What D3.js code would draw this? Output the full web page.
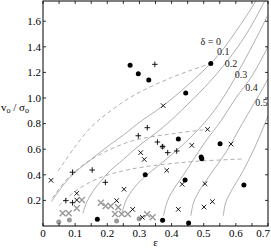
<!DOCTYPE html>
<html><head><meta charset="utf-8">
<script src="https://cdn.jsdelivr.net/npm/d3@7"></script>
<style>body{margin:0;background:#fff}svg{display:block}text{font-family:"Liberation Serif","DejaVu Serif",serif}</style>
</head><body>
<script>
// ---- data (ε, v_o/σ_o) ----
const xTicks = [0,0.05,0.1,0.15,0.2,0.25,0.3,0.35,0.4,0.45,0.5,0.55,0.6,0.65,0.7];
const xTickLabels = [0,0.1,0.2,0.3,0.4,0.5,0.6,0.7];
const yTickLabels = [0.2,0.4,0.6,0.8,1.0,1.2,1.4,1.6];

const deltaNames = ["δ = 0","0.1","0.2","0.3","0.4","0.5"];
const deltaLabelPos = [[0.522,1.432],[0.561,1.357],[0.585,1.258],[0.616,1.172],[0.649,1.076],[0.680,0.956]];
const delta0  = [[0.026,0.19],[0.06,0.31],[0.1,0.42],[0.15,0.52],[0.2,0.62],[0.25,0.71],[0.3,0.81],[0.374,0.94],[0.45,1.1],[0.522,1.27],[0.55,1.35],[0.575,1.43],[0.6,1.52],[0.63,1.63],[0.662,1.758]];
const delta01 = [[0.124,0.10],[0.135,0.18],[0.155,0.27],[0.18,0.35],[0.208,0.43],[0.25,0.52],[0.3,0.63],[0.373,0.77],[0.45,0.95],[0.52,1.13],[0.594,1.357],[0.64,1.53],[0.69,1.758]];
const delta02 = [[0.245,0.09],[0.255,0.18],[0.275,0.27],[0.31,0.37],[0.373,0.50],[0.45,0.67],[0.52,0.86],[0.57,1.04],[0.619,1.258],[0.66,1.45],[0.7,1.65]];
const delta03 = [[0.375,0.08],[0.385,0.18],[0.40,0.26],[0.437,0.40],[0.5,0.64],[0.556,0.83],[0.6,1.0],[0.65,1.172],[0.7,1.40]];
const delta04 = [[0.46,0.08],[0.468,0.18],[0.485,0.27],[0.52,0.40],[0.57,0.58],[0.62,0.80],[0.684,1.076],[0.7,1.15]];
const delta05 = [[0.561,0.08],[0.568,0.18],[0.585,0.27],[0.62,0.42],[0.66,0.62],[0.7,0.86]];

const dashed1 = [[0.047,0.43],[0.1,0.62],[0.147,0.766],[0.2,0.88],[0.282,1.02],[0.4,1.16],[0.522,1.27]];
const dashed2 = [[0.03,0.22],[0.08,0.38],[0.15,0.52],[0.271,0.66],[0.4,0.72],[0.512,0.755]];
const dashed3 = [[0.05,0.16],[0.1,0.27],[0.17,0.37],[0.271,0.443],[0.45,0.50],[0.618,0.523]];

const blackDots = [[0.271,1.255],[0.2965,1.19],[0.329,1.14],[0.444,1.04],[0.522,1.27],[0.421,0.68],[0.551,0.643],[0.492,0.54],[0.494,0.526],[0.318,0.40],[0.442,0.36],[0.625,0.32],[0.372,0.045],[0.453,0.023],[0.169,0.052]];
const grayDots = [[0.049,0.031],[0.082,0.047],[0.229,0.039],[0.299,0.057],[0.372,0.62]];
const blackX = [[0.374,0.94],[0.512,0.755],[0.463,0.63],[0.585,0.64],[0.304,0.573],[0.315,0.52],[0.385,0.435],[0.433,0.326],[0.504,0.33],[0.527,0.19],[0.501,0.148],[0.421,0.13],[0.279,0.13],[0.309,0.068],[0.025,0.357],[0.252,0.287],[0.105,0.255],[0.105,0.203],[0.229,0.198]];
const grayX = [[0.121,0.203],[0.105,0.138],[0.061,0.10],[0.08,0.10],[0.18,0.182],[0.195,0.156],[0.211,0.156],[0.234,0.146],[0.224,0.094],[0.245,0.094],[0.264,0.094],[0.324,0.091],[0.341,0.068]];
const plusPts = [[0.3245,0.768],[0.2965,0.705],[0.356,0.656],[0.372,0.62],[0.388,0.573],[0.416,0.586],[0.348,1.263],[0.092,0.42],[0.153,0.4375],[0.194,0.341],[0.071,0.198],[0.092,0.182]];

// ---- drawing ----
const W=271,H=249, L=43, R=268, T=1, B=226;
const FF='"Liberation Serif","DejaVu Serif",serif';
const svg=d3.select("body").append("svg").attr("width",W).attr("height",H);
const x=d3.scaleLinear().domain([0,0.7]).range([L,R]);
const y=d3.scaleLinear().domain([0,(B-T)/128]).range([B,T]);
const gray="#9a9a9a";

svg.append("clipPath").attr("id","c").append("rect").attr("x",L).attr("y",T).attr("width",R-L).attr("height",B-T);
const plot=svg.append("g").attr("clip-path","url(#c)");
const line=d3.line().x(d=>x(d[0])).y(d=>y(d[1])).curve(d3.curveCatmullRom.alpha(0.5));

[delta0,delta01,delta02,delta03,delta04,delta05].forEach(c=>{
  plot.append("path").attr("d",line(c)).attr("fill","none").attr("stroke",gray).attr("stroke-width",0.8);
});
[dashed1,dashed2,dashed3].forEach(c=>{
  plot.append("path").attr("d",line(c)).attr("fill","none").attr("stroke",gray).attr("stroke-width",0.8).attr("stroke-dasharray","4,3");
});

// delta labels
svg.append("g").selectAll("text").data(deltaNames).join("text")
  .attr("x",(d,i)=>x(deltaLabelPos[i][0])).attr("y",(d,i)=>y(deltaLabelPos[i][1]))
  .attr("text-anchor","middle").attr("dominant-baseline","middle")
  .attr("font-family",FF).attr("font-size",10).attr("fill","#222").text(d=>d);

// markers
const mk=svg.append("g");
mk.selectAll(".gd").data(grayDots).join("circle").attr("cx",d=>x(d[0])).attr("cy",d=>y(d[1])).attr("r",2.5).attr("fill",gray);
mk.selectAll(".gx").data(grayX).join("path")
  .attr("d",d=>{const cx=x(d[0]),cy=y(d[1]),s=3.0;return `M${cx-s},${cy-s}L${cx+s},${cy+s}M${cx-s},${cy+s}L${cx+s},${cy-s}`;})
  .attr("stroke",gray).attr("stroke-width",1.4).attr("fill","none");
mk.selectAll(".bd").data(blackDots).join("circle").attr("cx",d=>x(d[0])).attr("cy",d=>y(d[1])).attr("r",2.5).attr("fill","#000");
mk.selectAll(".bx").data(blackX).join("path")
  .attr("d",d=>{const cx=x(d[0]),cy=y(d[1]),s=2.3;return `M${cx-s},${cy-s}L${cx+s},${cy+s}M${cx-s},${cy+s}L${cx+s},${cy-s}`;})
  .attr("stroke","#000").attr("stroke-width",0.9).attr("fill","none");
mk.selectAll(".bp").data(plusPts).join("path")
  .attr("d",d=>{const cx=x(d[0]),cy=y(d[1]),s=2.8;return `M${cx-s},${cy}L${cx+s},${cy}M${cx},${cy-s}L${cx},${cy+s}`;})
  .attr("stroke","#000").attr("stroke-width",0.9).attr("fill","none");

// frame + inward ticks
svg.append("rect").attr("x",L).attr("y",T).attr("width",R-L).attr("height",B-T).attr("fill","none").attr("stroke","#000").attr("stroke-width",1);
const tk=svg.append("g").attr("stroke","#000").attr("stroke-width",0.8);
xTicks.forEach(v=>{
  tk.append("line").attr("x1",x(v)).attr("x2",x(v)).attr("y1",B).attr("y2",B-3);
  tk.append("line").attr("x1",x(v)).attr("x2",x(v)).attr("y1",T).attr("y2",T+3);
});
yTickLabels.forEach(v=>{
  tk.append("line").attr("x1",L).attr("x2",L+3).attr("y1",y(v)).attr("y2",y(v));
  tk.append("line").attr("x1",R).attr("x2",R-3).attr("y1",y(v)).attr("y2",y(v));
});
svg.append("g").selectAll("text").data(xTickLabels).join("text")
  .attr("x",d=>d===0.7?270:x(d)).attr("y",237).attr("text-anchor",d=>d===0.7?"end":"middle")
  .attr("font-family",FF).attr("font-size",11)
  .text(d=>d===0?"0":d3.format(".1f")(d));
svg.append("g").selectAll("text").data(yTickLabels).join("text")
  .attr("x",41).attr("y",d=>y(d)+3.8).attr("text-anchor","end").attr("font-family",FF).attr("font-size",11)
  .text(d=>d3.format(".1f")(d));

// axis titles
svg.append("text").attr("x",x(0.35)).attr("y",246).attr("text-anchor","middle").attr("font-family",FF).attr("font-size",11).text("ε");
const yl=svg.append("text").attr("x",1).attr("y",111).attr("font-family",FF).attr("font-size",11);
yl.append("tspan").text("v");
yl.append("tspan").attr("font-size",8).attr("dy",2).text("o");
yl.append("tspan").attr("dy",-2).text(" / σ");
yl.append("tspan").attr("font-size",8).attr("dy",2).text("o");
</script>
</body></html>
